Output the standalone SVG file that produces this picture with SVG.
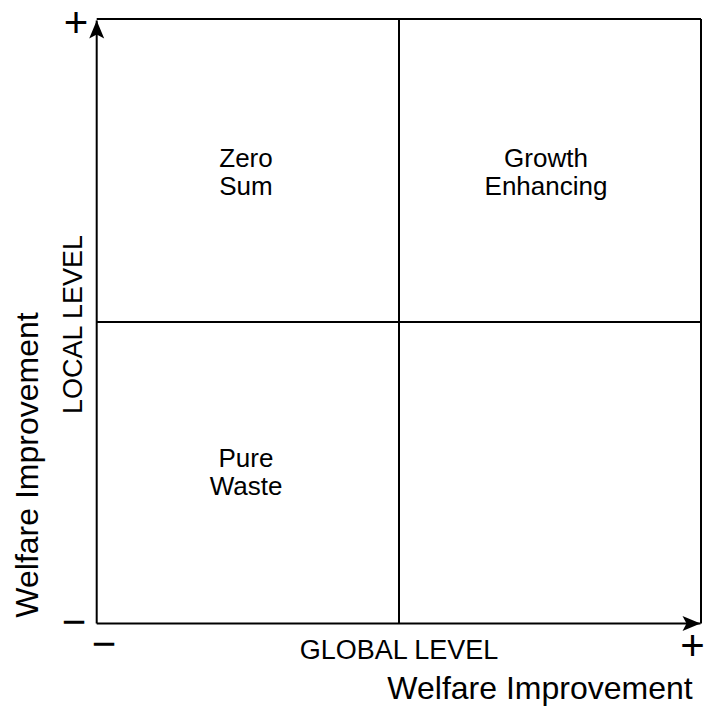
<svg xmlns="http://www.w3.org/2000/svg" width="704" height="708" viewBox="0 0 704 708">
  <style>
    text { font-family: "Liberation Sans", Arial, sans-serif; fill: #000; }
    .q { font-size: 26px; text-anchor: middle; }
    .lvl { font-size: 27px; text-anchor: middle; }
    .wi { font-size: 32px; text-anchor: middle; }
    .sign { font-size: 42px; text-anchor: middle; }
    .ln { stroke: #000; stroke-width: 2; fill: none; }
  </style>
  <defs>
    <marker id="arrow" markerUnits="userSpaceOnUse" markerWidth="24" markerHeight="20" viewBox="-20 -10 22 20" refX="0" refY="0" orient="auto" overflow="visible">
      <path d="M0,0 L-18,-7.5 L-14,0 L-18,7.5 Z" fill="#000"/>
    </marker>
  </defs>
  <rect width="704" height="708" fill="#fff"/>

  <g id="frame">
    <line class="ln" x1="96.7" y1="19" x2="701" y2="19"/>
    <line class="ln" x1="701" y1="19" x2="701" y2="623.5"/>
    <line class="ln" x1="399" y1="19" x2="399" y2="623.5"/>
    <line class="ln" x1="96.7" y1="322" x2="701" y2="322"/>
  </g>

  <g id="connectors">
    <line class="ln" x1="96.7" y1="623.5" x2="96.7" y2="20.5" marker-end="url(#arrow)"/>
    <line class="ln" x1="96.7" y1="623.5" x2="700.5" y2="623.5" marker-end="url(#arrow)"/>
  </g>

  <g id="zero-sum">
    <text class="q" x="246" y="167">Zero</text>
    <text class="q" x="246" y="195">Sum</text>
  </g>
  <g id="growth-enhancing">
    <text class="q" x="546" y="167">Growth</text>
    <text class="q" x="546" y="195">Enhancing</text>
  </g>
  <g id="pure-waste">
    <text class="q" x="246" y="467">Pure</text>
    <text class="q" x="246" y="495">Waste</text>
  </g>

  <g id="axis-labels">
    <text class="lvl" x="399" y="659">GLOBAL LEVEL</text>
    <text class="wi" x="540" y="699">Welfare Improvement</text>
    <text class="lvl" transform="translate(81.7,324.5) rotate(-90)">LOCAL LEVEL</text>
    <text class="wi" transform="translate(38,465) rotate(-90)">Welfare Improvement</text>
  </g>

  <g id="signs">
    <text class="sign" x="76" y="36.8">+</text>
    <text class="sign" x="74" y="635.8">−</text>
    <text class="sign" x="104" y="657.8">−</text>
    <text class="sign" x="692.5" y="659.8">+</text>
  </g>
</svg>
